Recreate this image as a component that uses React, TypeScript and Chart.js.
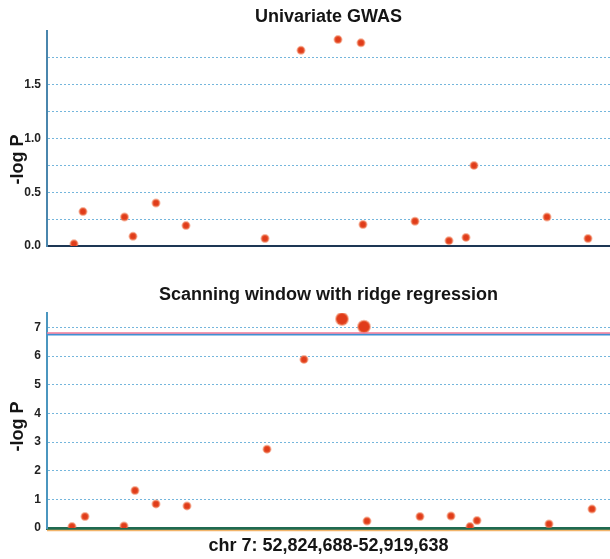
import React, { useEffect, useRef } from "react";
import { Chart, registerables } from "chart.js";

Chart.register(...registerables);

// Genomic window (chr 7)
const X_MIN = 52824688;
const X_MAX = 52919638;

// Panel 1: Univariate GWAS
const gwasPositions = [
  52829242, 52830759, 52837758, 52839192, 52843071, 52848130, 52861454, 52867525,
  52873765, 52877644, 52877981, 52886751, 52892485, 52895352, 52896702, 52909013, 52915928,
];
const gwasLogP = [0.02, 0.32, 0.27, 0.09, 0.4, 0.19, 0.07, 1.82, 1.92, 1.89, 0.2, 0.23, 0.05, 0.08, 0.75, 0.27, 0.07];

// Panel 2: Scanning window with ridge regression
const ridgePositions = [
  52828904, 52831097, 52837674, 52839529, 52843071, 52848299, 52861791, 52868031,
  52874440, 52878150, 52878656, 52887594, 52892823, 52896027, 52897208, 52909350, 52916602,
];
const ridgeLogP = [0.05, 0.4, 0.07, 1.31, 0.84, 0.77, 2.75, 5.88, 7.29, 7.02, 0.24, 0.4, 0.42, 0.05, 0.26, 0.14, 0.66];

// Significance thresholds
const thresholdRed = 6.8;
const thresholdBlue = 6.75;

// Axis settings
const gwasYMax = 2.0;
const gwasYStep = 0.25;
const ridgeYMax = 7.5;
const ridgeYStep = 0.5;

const titleTop = "Univariate GWAS";
const titleBottom = "Scanning window with ridge regression";
const yTitle = "-log P";
const xTitle = "chr 7: 52,824,688-52,919,638";

const FONT = "'Liberation Sans', Arial, sans-serif";
const GRID = "#74b6dc";
const DOT = "#e03c1a";
const HALO = "rgba(238,120,80,0.55)";

function pts(xs: number[], ys: number[]) {
  return xs.map((x, i) => ({ x, y: ys[i] }));
}

const decorations = {
  id: "decorations",
  afterDraw(chart: any, _a: any, opts: any) {
    const { ctx, chartArea } = chart;
    ctx.save();
    if (opts && opts.underline) {
      ctx.strokeStyle = opts.underline;
      ctx.lineWidth = 1.5;
      ctx.beginPath();
      ctx.moveTo(chartArea.left, chartArea.bottom + 2.5);
      ctx.lineTo(chartArea.right, chartArea.bottom + 2.5);
      ctx.stroke();
    }
    if (opts && opts.yText) {
      const cy = (chartArea.top + chartArea.bottom) / 2 + (opts.yOffset || 0);
      ctx.translate(opts.yX, cy);
      ctx.rotate(-Math.PI / 2);
      ctx.fillStyle = "#151515";
      ctx.font = "bold 18px " + FONT;
      ctx.textAlign = "center";
      ctx.textBaseline = "middle";
      ctx.fillText(opts.yText, 0, 0);
    }
    ctx.restore();
  },
};

function makeConfig(
  kind: "top" | "bottom",
  canvasH: number,
  areaTop: number,
  areaBottom: number,
  titlePadTop: number,
  yOffset: number
): any {
  const isTop = kind === "top";
  const datasets: any[] = [];
  if (!isTop) {
    datasets.push({
      type: "line",
      data: [
        { x: X_MIN, y: thresholdRed },
        { x: X_MAX, y: thresholdRed },
      ],
      borderColor: "#f07a98",
      borderWidth: 1.5,
      pointRadius: 0,
    });
    datasets.push({
      type: "line",
      data: [
        { x: X_MIN, y: thresholdBlue },
        { x: X_MAX, y: thresholdBlue },
      ],
      borderColor: "#3f90d4",
      borderWidth: 2,
      pointRadius: 0,
    });
  }
  const values = isTop ? gwasLogP : ridgeLogP;
  datasets.push({
    type: "scatter",
    data: isTop ? pts(gwasPositions, gwasLogP) : pts(ridgePositions, ridgeLogP),
    backgroundColor: DOT,
    borderColor: HALO,
    borderWidth: 2,
    pointRadius: (c: any) => {
      const v = values[c.dataIndex];
      if (isTop) return 3.5;
      return v > thresholdRed ? 6 : 3.5;
    },
  });

  const yMax = isTop ? gwasYMax : ridgeYMax;
  const titleLH = 18 * 1.2;
  return {
    type: "scatter",
    data: { datasets },
    plugins: [decorations],
    options: {
      responsive: false,
      animation: false,
      devicePixelRatio: 1,
      layout: { autoPadding: false, padding: { left: 0, right: 0, top: 0, bottom: 0 } },
      plugins: {
        legend: { display: false },
        tooltip: { enabled: false },
        decorations: {
          underline: isTop ? null : "#f2b46a",
          yText: yTitle,
          yX: 18,
          yOffset,
        },
        title: {
          display: true,
          text: isTop ? titleTop : titleBottom,
          fullSize: false,
          color: "#151515",
          font: { family: FONT, size: 18, weight: "bold", lineHeight: 1.2 },
          padding: { top: titlePadTop, bottom: areaTop - titleLH - titlePadTop },
        },
      },
      scales: {
        x: {
          type: "linear",
          min: X_MIN,
          max: X_MAX,
          afterFit: (s: any) => {
            s.height = canvasH - areaBottom;
          },
          ticks: { display: false },
          grid: { display: false, drawTicks: false },
          border: {
            display: true,
            color: isTop ? "#1d3654" : "#1f6a50",
            width: isTop ? 2 : 3,
          },
          title: isTop
            ? { display: false }
            : {
                display: true,
                text: xTitle,
                color: "#151515",
                font: { family: FONT, size: 18, weight: "bold", lineHeight: 1.2 },
                padding: { top: 0, bottom: 2 },
              },
        },
        y: {
          type: "linear",
          min: 0,
          max: yMax,
          afterFit: (s: any) => {
            s.width = 47;
          },
          ticks: {
            stepSize: isTop ? gwasYStep : ridgeYStep,
            padding: 6,
            color: "#222222",
            font: { family: FONT, size: 12, weight: "bold" },
            callback: (v: any) => {
              const n = Number(v);
              if (isTop) {
                if (n >= gwasYMax - 1e-6) return "";
                if (Math.abs(n * 2 - Math.round(n * 2)) < 1e-6) return n.toFixed(1);
                return "";
              }
              if (Math.abs(n - Math.round(n)) < 1e-6) return String(n);
              return "";
            },
          },
          grid: {
            drawTicks: false,
            lineWidth: 1,
            color: (c: any) => {
              if (!c.tick) return GRID;
              if (isTop && c.tick.value >= gwasYMax - 1e-6) return "rgba(0,0,0,0)";
              return GRID;
            },
          },
          border: {
            display: true,
            color: isTop ? "#4a86ad" : "#4b96bf",
            width: 2,
            dash: [2, 2],
          },
          title: { display: false },
        },
      },
    },
  };
}

function Panel(props: {
  kind: "top" | "bottom";
  top: number;
  height: number;
  areaTop: number;
  areaBottom: number;
  titlePadTop: number;
  yOffset: number;
}) {
  const ref = useRef<HTMLCanvasElement | null>(null);
  useEffect(() => {
    if (!ref.current) return;
    const chart = new Chart(
      ref.current,
      makeConfig(props.kind, props.height, props.areaTop, props.areaBottom, props.titlePadTop, props.yOffset)
    );
    return () => chart.destroy();
  }, []);
  return (
    <canvas
      ref={ref}
      width={610}
      height={props.height}
      style={{ position: "absolute", left: 0, top: props.top, width: 610, height: props.height }}
    />
  );
}

export default function App() {
  return (
    <div style={{ position: "absolute", left: 0, top: 0, width: 610, height: 559, background: "#ffffff", overflow: "hidden" }}>
      <Panel kind="top" top={0} height={262} areaTop={31} areaBottom={246} titlePadTop={6} yOffset={21} />
      <Panel kind="bottom" top={280} height={279} areaTop={33} areaBottom={248} titlePadTop={4} yOffset={6} />
    </div>
  );
}
